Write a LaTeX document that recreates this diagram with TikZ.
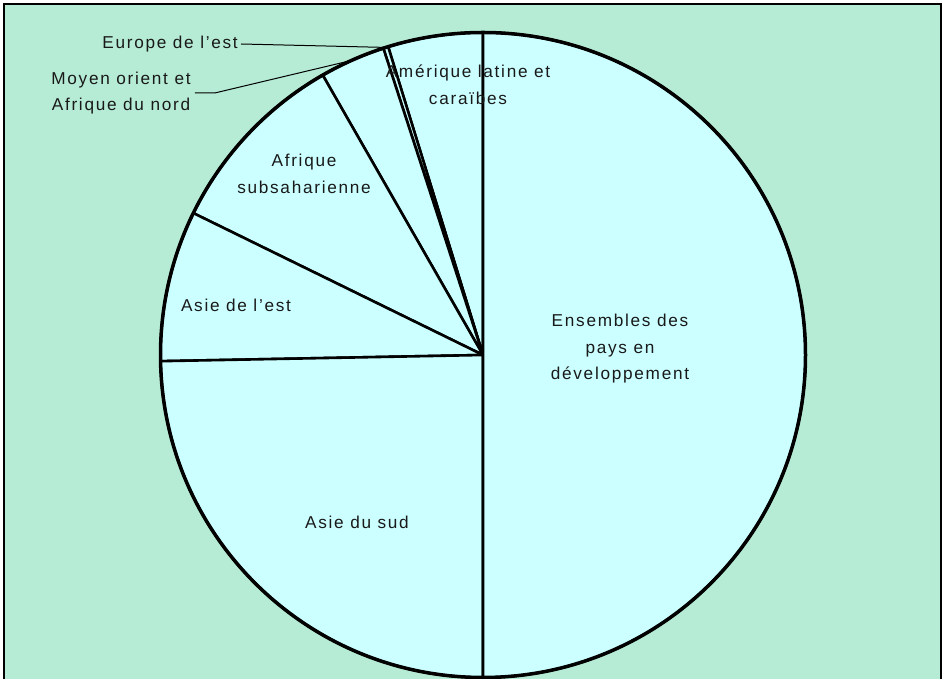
\documentclass[tikz,border=0pt]{standalone}
\usepackage{fontspec}
\usetikzlibrary{calc}
\newfontfamily\lbl[LetterSpace=10]{Liberation Sans}
\definecolor{bgcol}{RGB}{182,236,214}
\definecolor{piecol}{RGB}{204,255,255}
\tikzset{
  slice/.style={fill=piecol, draw=black, line width=2.6pt, line join=round},
  lab/.style={font=\lbl\fontsize{17.2}{26.5}\selectfont, text=black!90, align=center, inner sep=0pt},
  leader/.style={draw=black, line width=1pt}
}
\begin{document}
\begin{tikzpicture}[x=1pt,y=1pt]
\useasboundingbox (0,0) rectangle (946,679);
\clip (0,0) rectangle (946,679);
\fill[white] (0,0) rectangle (946,679);
\draw[fill=bgcol, line width=1.5pt] (4,-20) rectangle (941,675);
\coordinate (O) at (483,324);
\foreach \a/\b in {90/107.1, 107.1/108.0, 108.0/119.8, 119.8/153.9, 153.9/181.1, 181.1/270, 270/450}
  \draw[slice] (O) -- ++(\a:322.5) arc[start angle=\a, end angle=\b, radius=322.5] -- cycle;
\draw[line width=3.5pt] (O) circle (322.5);
% labels
\node[lab] (la) at (468,594) {Amérique latine et\\caraïbes};
\node[lab] (as) at (304,505) {Afrique\\subsaharienne};
\node[lab] (ae) at (236,374) {Asie de l’est};
\node[lab] (en) at (620,330) {Ensembles des\\pays en\\développement};
\node[lab] (sd) at (357,157) {Asie du sud};
\node[lab, anchor=east] (eu) at (238,635) {Europe de l’est};
\node[lab] (mo) at (121,586) {Moyen orient et\\Afrique du nord};
% leader lines
\coordinate (euend) at ($(O)+(107.5:322.5)$);
\coordinate (moend) at ($(O)+(114:322.5)$);
\draw[leader] ([xshift=3pt]eu.east) -- (euend);
\draw[leader] ([xshift=4pt]mo.east) -- ++(20,0) -- (moend);
\end{tikzpicture}
\end{document}
